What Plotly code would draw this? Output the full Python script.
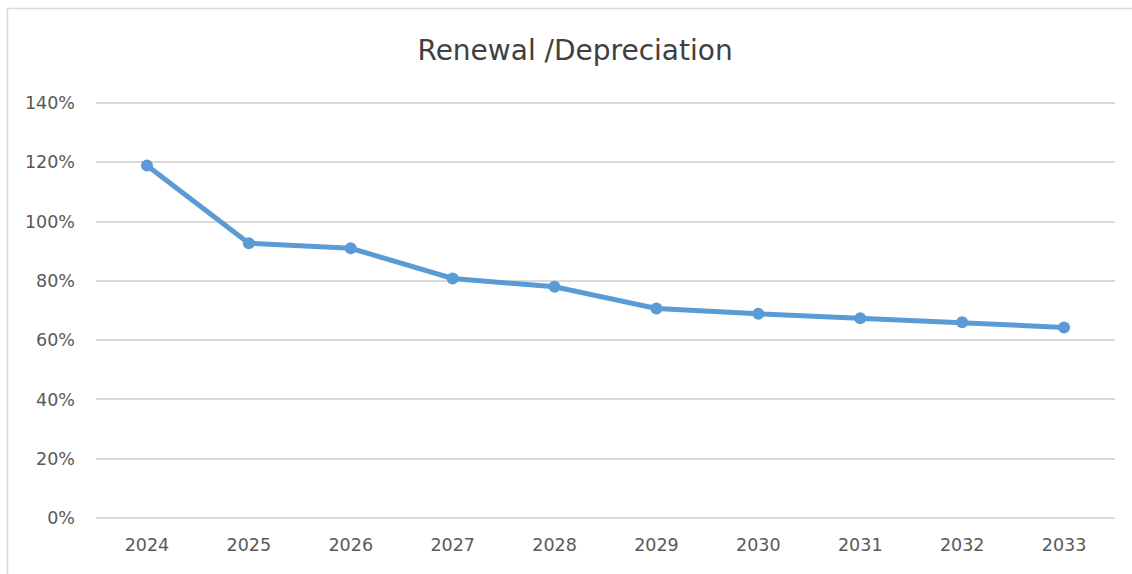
import plotly.graph_objects as go

# Renewal / depreciation ratio by year (%)
years = ["2024", "2025", "2026", "2027", "2028", "2029", "2030", "2031", "2032", "2033"]
ratio_pct = [118.9, 92.7, 91.0, 80.8, 78.0, 70.7, 68.9, 67.4, 66.0, 64.3]

y_ticks = [0, 20, 40, 60, 80, 100, 120, 140]
y_tick_labels = ["0%", "20%", "40%", "60%", "80%", "100%", "120%", "140%"]

W, H = 1132, 574
ML, MR, MT, MB = 96, 17, 102, 55
pw, ph = W - ML - MR, H - MT - MB
pad = 0.35  # small headroom so the 0% and 140% gridlines are drawn

fig = go.Figure(
    go.Scatter(
        x=years,
        y=ratio_pct,
        mode="lines+markers",
        line=dict(color="#5B9BD5", width=5),
        marker=dict(color="#5B9BD5", size=12),
        hoverinfo="x+y",
    )
)

# light outer frame of the chart area
fig.add_shape(
    type="rect", xref="paper", yref="paper",
    x0=(7.5 - ML) / pw, x1=(W + 5 - ML) / pw,
    y0=(H - MB - (H + 5)) / ph, y1=(H - MB - 8.5) / ph,
    line=dict(color="#D9D9D9", width=1.5), layer="below",
)

fig.update_layout(
    width=W, height=H,
    margin=dict(l=ML, r=MR, t=MT, b=MB, autoexpand=False),
    paper_bgcolor="white", plot_bgcolor="white",
    showlegend=False,
    font=dict(family="DejaVu Sans, sans-serif", color="#595959"),
    title=dict(
        text="Renewal /Depreciation",
        x=0.508, xref="container", xanchor="center",
        y=(H - 50) / H, yanchor="middle",
        font=dict(size=28, color="#404040"),
    ),
    xaxis=dict(
        type="category", automargin=False,
        range=[-0.5, len(years) - 0.5],
        showgrid=False, zeroline=False, showline=False,
        ticks="", tickfont=dict(size=17.5, color="#595959"),
        ticklabelstandoff=13,
    ),
    yaxis=dict(
        range=[-pad, 140 + pad], automargin=False,
        tickvals=y_ticks, ticktext=y_tick_labels,
        showgrid=True, gridcolor="#D9D9D9", gridwidth=1.5,
        zeroline=False, showline=False,
        ticks="", tickfont=dict(size=17.5, color="#595959"),
        ticklabelstandoff=20,
    ),
)

fig.write_html("out.html")
